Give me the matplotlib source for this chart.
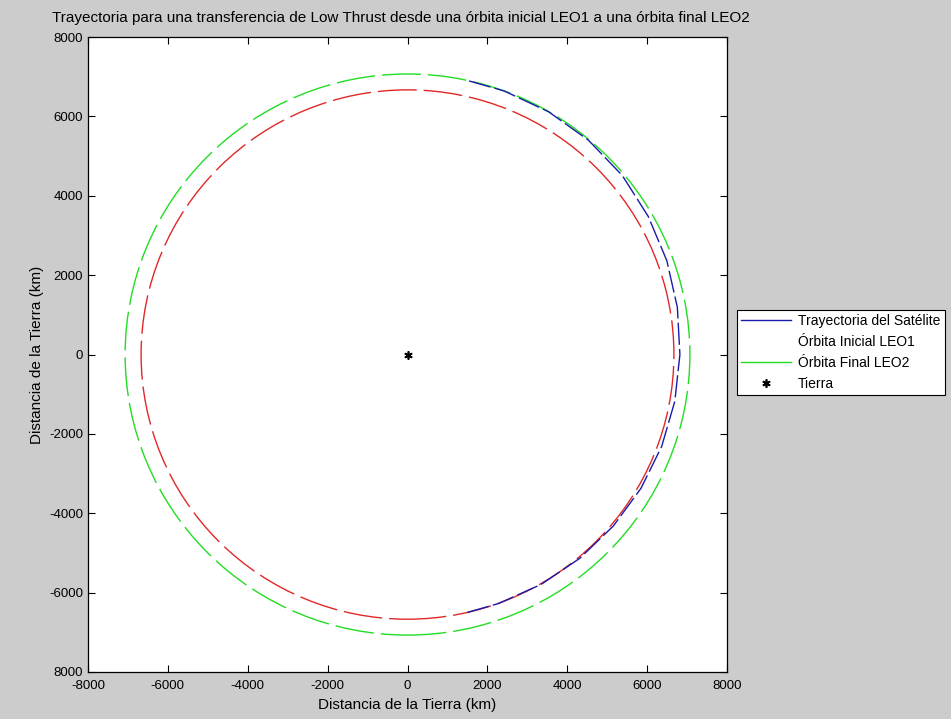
import numpy as np
import matplotlib
matplotlib.use('Agg')
import matplotlib.pyplot as plt
from matplotlib.patches import Circle
from matplotlib.lines import Line2D

plt.rcParams['font.family'] = ['Liberation Sans', 'DejaVu Sans']

# orbit radii (km)
r_leo1 = 6670
r_leo2 = 7070

# satellite trajectory (angle in degrees, radius in km)
traj_ang = [-77, -70, -60, -50, -40, -30, -20, -10, 0, 10, 20, 30, 40, 50, 60, 70, 78]
traj_r = [6670, 6676, 6690, 6706, 6725, 6748, 6772, 6795, 6820, 6860, 6910, 6960, 7020, 7050, 7065, 7070, 7070]

ticks = [-8000, -6000, -4000, -2000, 0, 2000, 4000, 6000, 8000]
xtick_labels = ['-8000', '-6000', '-4000', '-2000', '0', '2000', '4000', '6000', '8000']
ytick_labels = ['8000', '-6000', '-4000', '-2000', '0', '2000', '4000', '6000', '8000']

labels = ['Trayectoria del Satélite', 'Órbita Inicial LEO1', 'Órbita Final LEO2', 'Tierra']

fig = plt.figure(figsize=(9.51, 7.19), dpi=100, facecolor='#cccccc')
ax = fig.add_axes([0.0925, 0.0654, 0.672, 0.883])
ax.set_facecolor('white')

dash = (0, (28, 5))
ax.add_patch(Circle((0, 0), r_leo1, fill=False, edgecolor='#e02828', lw=1.0, ls=dash))
ax.add_patch(Circle((0, 0), r_leo2, fill=False, edgecolor='#22dd22', lw=1.0, ls=dash))

th = np.radians(traj_ang)
tx = np.array(traj_r) * np.cos(th)
ty = np.array(traj_r) * np.sin(th)
ax.plot(tx, ty, color='#1a1aaa', lw=1.0, ls=(0, (16, 3)))

ax.plot([0], [0], marker=(6, 2, 0), color='black', ms=6, mew=1.2, ls='none')

ax.set_xlim(-8000, 8000)
ax.set_ylim(-8000, 8000)
ax.set_xticks(ticks)
ax.set_xticklabels(xtick_labels)
ax.set_yticks(ticks)
ax.set_yticklabels(ytick_labels)
ax.tick_params(direction='in', length=5, width=0.8, top=True, right=True, labelsize=9.5)
ax.tick_params(axis='x', pad=6)
for s in ax.spines.values():
    s.set_linewidth(0.9)

ax.set_title('Trayectoria para una transferencia de Low Thrust desde una órbita inicial LEO1 a una órbita final LEO2',
             fontsize=11, pad=11, x=0.49)
ax.set_xlabel('Distancia de la Tierra (km)', fontsize=11, labelpad=4)
ax.set_ylabel('Distancia de la Tierra (km)', fontsize=11, labelpad=4)

handles = [
    Line2D([], [], color='#1a1aaa', lw=1.0),
    Line2D([], [], color='none', lw=1.0),
    Line2D([], [], color='#22dd22', lw=1.0),
    Line2D([], [], color='black', marker=(6, 2, 0), ls='none', ms=6, mew=1.2),
]
leg = fig.legend(handles, labels, loc='upper left', bbox_to_anchor=(0.775, 0.569),
                 fontsize=10, frameon=True, fancybox=False, handlelength=3.6,
                 borderpad=0.3, labelspacing=0.5, handletextpad=0.5, borderaxespad=0,
                 framealpha=1, facecolor='white')
leg.get_frame().set_edgecolor('black')
leg.get_frame().set_linewidth(0.8)

fig.savefig('out.png', dpi=100, facecolor=fig.get_facecolor())
